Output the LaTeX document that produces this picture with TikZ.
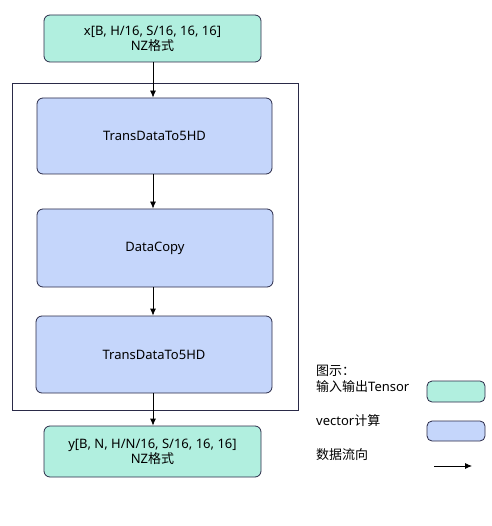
\documentclass[tikz,border=0pt]{standalone}
\usepackage{fontspec}
\setmainfont{Noto Sans}
\newfontfamily\cjk{Noto Sans CJK SC}
\usetikzlibrary{arrows.meta}
\definecolor{teal}{HTML}{B1EFDF}
\definecolor{blu}{HTML}{C5D6FB}
\definecolor{edge}{HTML}{2A2A48}
\tikzset{
  tensor/.style={draw=edge, fill=teal, rounded corners=6pt, line width=0.8pt, align=center, font=\fontsize{13}{15}\selectfont},
  vec/.style={draw=edge, fill=blu, rounded corners=6pt, line width=0.8pt, align=center, font=\fontsize{13}{15}\selectfont},
  flow/.style={-{Latex[length=7pt,width=6pt]}, line width=0.8pt, black},
  lab/.style={anchor=west, inner sep=0pt, font=\fontsize{13}{15}\selectfont}
}
\begin{document}
\begin{tikzpicture}[x=1pt,y=-1pt]
\useasboundingbox (0,0) rectangle (491,526);
\node[tensor, minimum width=217pt, minimum height=47pt] (in) at (152.5,38.5) {x[B, H/16, S/16, 16, 16]\\NZ{\cjk 格式}};
\node[draw=edge, line width=0.8pt, minimum width=286pt, minimum height=327pt, inner sep=0pt] (frame) at (155,246.5) {};
\node[vec, minimum width=235pt, minimum height=76pt] (b1) at (154.5,136) {TransDataTo5HD};
\node[vec, minimum width=236pt, minimum height=78pt] (b2) at (155,248) {DataCopy};
\node[vec, minimum width=236pt, minimum height=77pt] (b3) at (154,354.5) {TransDataTo5HD};
\node[tensor, minimum width=217pt, minimum height=51pt] (out) at (152.5,451.5) {y[B, N, H/N/16, S/16, 16, 16]\\NZ{\cjk 格式}};
\draw[flow] (in.south -| 153,0) -- (b1.north -| 153,0);
\draw[flow] (b1.south -| 153,0) -- (b2.north -| 153,0);
\draw[flow] (b2.south -| 153,0) -- (b3.north -| 153,0);
\draw[flow] (b3.south -| 153,0) -- (out.north -| 153,0);
% legend
\node[lab] (l0) at (316,371) {\cjk 图示：};
\node[lab] (l1) at (316,387) {{\cjk 输入输出}Tensor};
\node[lab] (l2) at (316,421) {vector{\cjk 计算}};
\node[lab] (l3) at (316,455) {\cjk 数据流向};
\node[tensor, minimum width=58pt, minimum height=21pt, rounded corners=5pt] (k1) at (456,391.5) {};
\node[vec, minimum width=58pt, minimum height=20pt, rounded corners=5pt] (k2) at (456,431) {};
\coordinate (a1) at (434,466);
\coordinate (a2) at (472,466);
\draw[flow] (a1) -- (a2);
\end{tikzpicture}
\end{document}
